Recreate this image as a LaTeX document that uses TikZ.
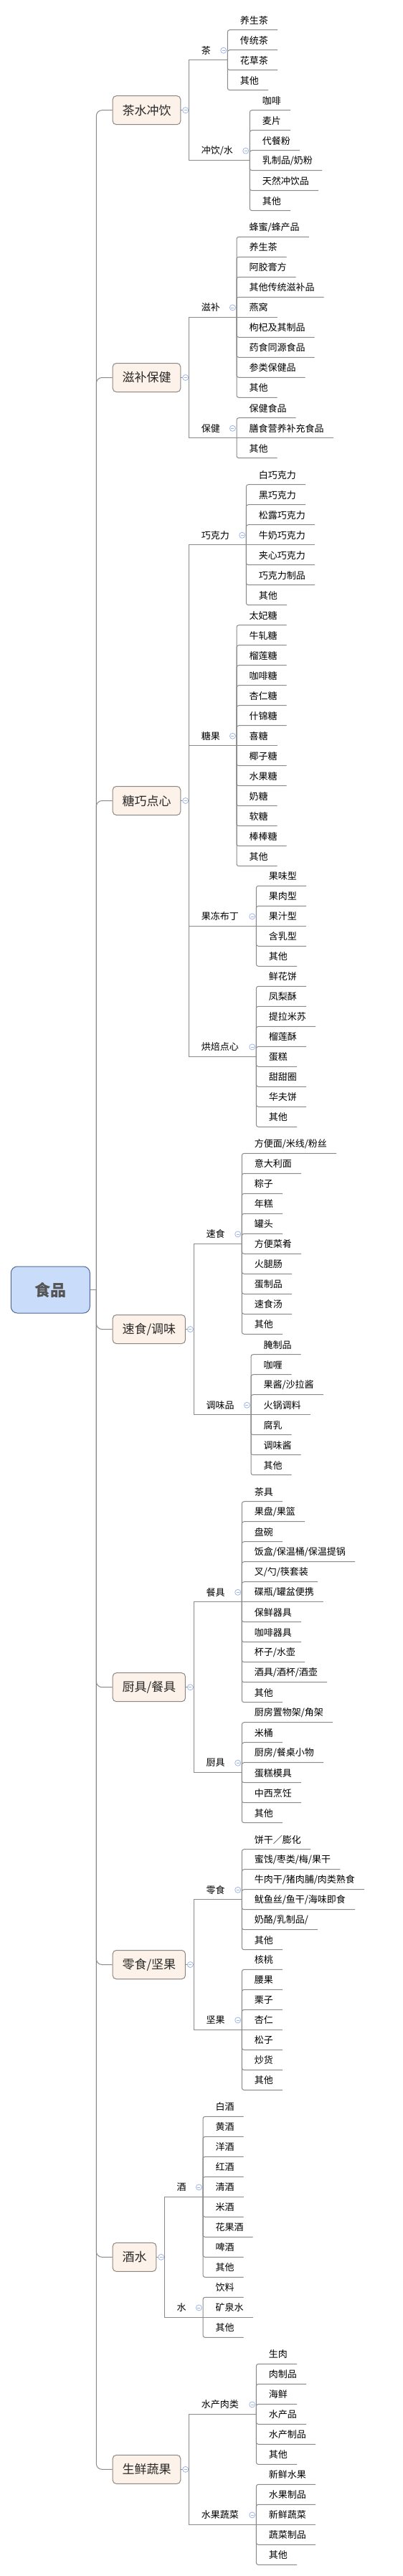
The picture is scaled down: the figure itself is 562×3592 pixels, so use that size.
\documentclass[tikz,border=0pt]{standalone}
\usepackage{fontspec}
\setmainfont{Noto Sans CJK SC}
\usetikzlibrary{calc}
\definecolor{linec}{RGB}{138,138,138}
\definecolor{boxline}{RGB}{140,135,130}
\definecolor{boxfill}{RGB}{253,242,233}
\definecolor{rootfill}{RGB}{201,220,249}
\definecolor{rootline}{RGB}{80,105,150}
\definecolor{roottxt}{RGB}{85,85,85}
\definecolor{txtdark}{RGB}{40,40,40}
\definecolor{iconc}{RGB}{160,182,230}
\tikzset{
 conn/.style={draw=linec, line width=1pt},
 lt/.style={inner sep=0pt, font=\fontsize{13}{13}\selectfont, text=black},
 l2/.style={inner sep=0pt, font=\fontsize{13}{13}\selectfont, text=black},
 l1/.style={draw=boxline, fill=boxfill, rounded corners=5pt, line width=1pt, minimum height=40pt, inner xsep=13.3pt, font=\fontsize{17}{17}\selectfont, text=txtdark},
 rootbox/.style={draw=rootline, fill=rootfill, rounded corners=9pt, line width=1pt, minimum width=110pt, minimum height=65pt, font=\fontsize{22}{22}\selectfont\bfseries, text=roottxt},
 icon/.style={draw=iconc, fill=white, line width=0.8pt},
 iconm/.style={draw=iconc, line width=0.8pt},
}
% #1 L2vx #2 L3vx #3 first y #4 n #5 label #6 leaves #7 name #8 L1 centre y
\newcommand\grp[8]{%
 \pgfmathsetmacro\grpy{#3+14*(#4-1)}%
 \draw[conn] (#1,#8) -- (#1,\grpy) -- (#2,\grpy);
 \node[l2,anchor=west] (#7) at (#1+17.4,\grpy-13.4) {#5};
 \foreach \t [count=\i] in {#6} {
   \pgfmathsetmacro\lfy{#3+28*(\i-1)}%
   \node[lt,anchor=west] (#7\i) at (#2+17.3,\lfy-13.5) {\t};
   \coordinate (#7u\i) at (#2,\lfy);
   \pgfmathtruncatemacro\ismid{abs(\lfy-\grpy)<0.5}%
   \ifnum\ismid=1
     \draw[conn] (#7u\i) -- (#7\i.east |- #7u\i) -- ++(13,0);
   \else
     \draw[conn,rounded corners=3pt] (#2,\grpy) -- (#7u\i) -- (#7\i.east |- #7u\i) -- ++(13,0);
   \fi
 }
 \draw[icon] (#2-5.6,\grpy-13.4) circle (4pt);
 \draw[iconm] (#2-7.6,\grpy-13.4) -- (#2-3.6,\grpy-13.4);
}
% #1 name #2 cy #3 L2vx #4 label
\newcommand\lone[4]{%
 \draw[conn,rounded corners=8pt] (134.3,1798.5) -- (134.3,#2) -- (156.7,#2);
 \node[l1,anchor=west] (#1) at (156.7,#2) {#4};
 \draw[conn] (#1.east) -- (#3,#2);
 \draw[icon] ($(#1.east)+(6.4,0)$) circle (4pt);
 \draw[iconm] ($(#1.east)+(4.4,0)$) -- ($(#1.east)+(8.4,0)$);
}
\begin{document}
\begin{tikzpicture}[x=1pt,y=-1pt]
\fill[white] (0,0) rectangle (562,3592);
\useasboundingbox (0,0) rectangle (562,3592);

\lone{b1}{153.7}{263.3}{茶水冲饮}
\grp{263.3}{317.3}{41.7}{4}{茶}{养生茶,传统茶,花草茶,其他}{ga}{153.7}
\grp{263.3}{348.3}{153.7}{6}{冲饮/水}{咖啡,麦片,代餐粉,乳制品/奶粉,天然冲饮品,其他}{gb}{153.7}

\lone{b2}{526.5}{263.3}{滋补保健}
\grp{263.3}{330}{330.3}{9}{滋补}{蜂蜜/蜂产品,养生茶,阿胶膏方,其他传统滋补品,燕窝,枸杞及其制品,药食同源食品,参类保健品,其他}{gc}{526.5}
\grp{263.3}{330}{582.7}{3}{保健}{保健食品,膳食营养补充食品,其他}{gd}{526.5}

\lone{b3}{1116.5}{263.3}{糖巧点心}
\grp{263.3}{343.3}{675.7}{7}{巧克力}{白巧克力,黑巧克力,松露巧克力,牛奶巧克力,夹心巧克力,巧克力制品,其他}{ge}{1116.5}
\grp{263.3}{330}{871.7}{13}{糖果}{太妃糖,牛轧糖,榴莲糖,咖啡糖,杏仁糖,什锦糖,喜糖,椰子糖,水果糖,奶糖,软糖,棒棒糖,其他}{gf}{1116.5}
\grp{263.3}{357.3}{1235.3}{5}{果冻布丁}{果味型,果肉型,果汁型,含乳型,其他}{gg}{1116.5}
\grp{263.3}{357.3}{1375.3}{8}{烘焙点心}{鲜花饼,凤梨酥,提拉米苏,榴莲酥,蛋糕,甜甜圈,华夫饼,其他}{gh}{1116.5}

\lone{b4}{1853.5}{270}{速食/调味}
\grp{270}{337.3}{1608.3}{10}{速食}{方便面/米线/粉丝,意大利面,粽子,年糕,罐头,方便菜肴,火腿肠,蛋制品,速食汤,其他}{gi}{1853.5}
\grp{270}{350}{1888.7}{7}{调味品}{腌制品,咖喱,果酱/沙拉酱,火锅调料,腐乳,调味酱,其他}{gj}{1853.5}

\lone{b5}{2352.7}{270}{厨具/餐具}
\grp{270}{337.3}{2093.7}{11}{餐具}{茶具,果盘/果篮,盘碗,饭盒/保温桶/保温提锅,叉/勺/筷套装,碟瓶/罐盆便携,保鲜器具,咖啡器具,杯子/水壶,酒具/酒杯/酒壶,其他}{gk}{2352.7}
\grp{270}{337.3}{2401.7}{6}{厨具}{厨房置物架/角架,米桶,厨房/餐桌小物,蛋糕模具,中西烹饪,其他}{gl}{2352.7}

\lone{b6}{2739.5}{270}{零食/坚果}
\grp{270}{337.3}{2578.7}{6}{零食}{饼干／膨化,蜜饯/枣类/梅/果干,牛肉干/猪肉脯/肉类熟食,鱿鱼丝/鱼干/海味即食,奶酪/乳制品/,其他}{gm}{2739.5}
\grp{270}{337.3}{2746.3}{7}{坚果}{核桃,腰果,栗子,杏仁,松子,炒货,其他}{gn}{2739.5}

\lone{b7}{3147.3}{229}{酒水}
\grp{229}{283}{2951.3}{9}{酒}{白酒,黄酒,洋酒,红酒,清酒,米酒,花果酒,啤酒,其他}{go}{3147.3}
\grp{229}{283}{3203.3}{3}{水}{饮料,矿泉水,其他}{gp}{3147.3}

\lone{b8}{3443.3}{263.3}{生鲜蔬果}
\grp{263.3}{357.3}{3296.3}{6}{水产肉类}{生肉,肉制品,海鲜,水产品,水产制品,其他}{gq}{3443.3}
\grp{263.3}{357.3}{3464.3}{5}{水果蔬菜}{新鲜水果,水果制品,新鲜蔬菜,蔬菜制品,其他}{gr}{3443.3}

\node[rootbox] (root) at (70.3,1798.5) {食品};
\draw[conn] (root.east) -- (134.3,1798.5);
\end{tikzpicture}
\end{document}
